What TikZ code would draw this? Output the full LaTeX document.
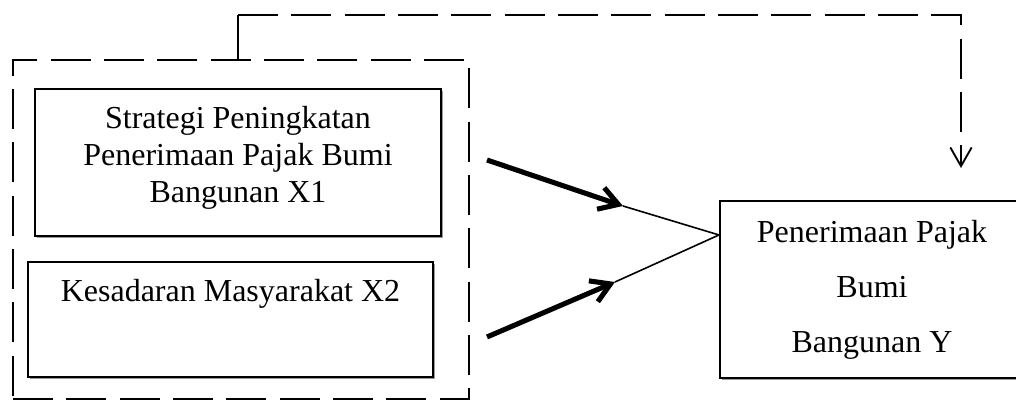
\documentclass[tikz,border=0pt]{standalone}
\usepackage{fontspec}
\setmainfont{Liberation Serif}
\usetikzlibrary{arrows.meta,shadows,calc}
\begin{document}
\begin{tikzpicture}[x=0.375pt,y=-0.375pt,
  box/.style={draw, line width=0.75pt, fill=white,
    drop shadow={shadow xshift=0.8pt,shadow yshift=-0.8pt,fill=black!40,opacity=1},
    inner sep=0pt, font={\fontsize{12}{14}\selectfont}, align=center},
  grpbox/.style={draw, line width=0.75pt, dash pattern=on 15pt off 5pt, inner sep=0pt},
  fb/.style={line width=0.7pt},
  fbdash/.style={line width=0.7pt, dash pattern=on 15pt off 5pt,
    -{Straight Barb[length=7pt,width=8pt]}},
  thickarrow/.style={line width=1.9pt, -{Straight Barb[length=7pt,width=8.5pt]}},
  thinline/.style={line width=0.6pt}]
\useasboundingbox (0,0) rectangle (1016,401);
% group (dashed) box
\node[grpbox, minimum width=171pt, minimum height=127.1pt] (grp) at (241,229.5) {};
% boxes
\node[box, minimum width=152.25pt, minimum height=55.1pt] (x1) at (238,162.5)
  {Strategi Peningkatan\\Penerimaan Pajak Bumi\\Bangunan X1\rule[-6pt]{0pt}{6pt}};
\node[box, minimum width=151.9pt, minimum height=43.1pt, text height=8.25pt, text depth=21.4pt]
  (x2) at (230.5,319.5) {Kesadaran Masyarakat X2};
\node[box, minimum width=114pt, minimum height=66.4pt, font={\fontsize{12}{20.6}\selectfont}]
  (y) at (872,289.5) {Penerimaan Pajak\\Bumi\\Bangunan Y};
% junction and arrow coordinates
\coordinate (jn) at ([yshift=-13.125pt]y.north west);
\coordinate (a1s) at (487,160);
\coordinate (a1e) at (623,206);
\coordinate (a2s) at (487,337);
\coordinate (a2e) at (615,282);
\draw[thickarrow] (a1s) -- (a1e);
\draw[thinline] (a1e) -- (jn);
\draw[thickarrow] (a2s) -- (a2e);
\draw[thinline] (a2e) -- (jn);
% feedback connector
\draw[fb] (grp.north -| x1.north) -- ++(0,-44) coordinate (c1);
\coordinate (fbend) at (961,168);
\draw[fbdash] (c1) -| (fbend);
\end{tikzpicture}
\end{document}
